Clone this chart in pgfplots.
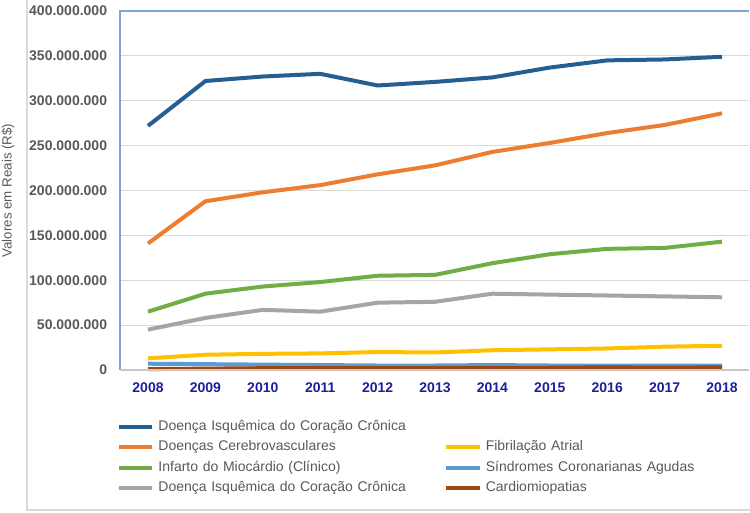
\documentclass[border=0pt]{standalone}
\usepackage{fontspec}
\setmainfont{Liberation Sans}
\usepackage{pgfplots}
\pgfplotsset{compat=1.18}

\definecolor{cBlue}{HTML}{255E91}
\definecolor{cOrange}{HTML}{ED7D31}
\definecolor{cGreen}{HTML}{70AD47}
\definecolor{cGray}{HTML}{A5A5A5}
\definecolor{cYellow}{HTML}{FFC000}
\definecolor{cLight}{HTML}{5B9BD5}
\definecolor{cBrown}{HTML}{9E480E}
\definecolor{frameBlue}{HTML}{7DA6D8}
\definecolor{gridGray}{HTML}{D9D9D9}
\definecolor{tickGray}{HTML}{595959}
\definecolor{tickNavy}{HTML}{1F1F9C}

\begin{document}
\begin{tikzpicture}
\begin{axis}[
  at={(0,0)}, anchor=south west,
  scale only axis,
  width=471.75pt, height=269.25pt,
  xmin=2007.512, xmax=2018.47,
  ymin=0, ymax=400,
  xtick={2008,2009,2010,2011,2012,2013,2014,2015,2016,2017,2018},
  xticklabels={2008,2009,2010,2011,2012,2013,2014,2015,2016,2017,2018},
  ytick={0,50,100,150,200,250,300,350,400},
  yticklabels={0,50.000.000,100.000.000,150.000.000,200.000.000,250.000.000,300.000.000,350.000.000,400.000.000},
  xticklabel style={font=\bfseries\fontsize{10.5}{12}\selectfont, text=tickNavy, anchor=north, inner sep=0pt, yshift=-9pt},
  yticklabel style={font=\bfseries\fontsize{10.5}{12}\selectfont, text=tickGray, anchor=east, inner sep=0pt, xshift=-9.5pt},
  major tick length=0pt,
  axis line style={draw=none},
  ymajorgrids, grid style={gridGray, line width=0.8pt},
  ylabel={Valores em Reais (R\$)},
  every axis y label/.style={at={(axis description cs:-0.178,0.5)}, rotate=90, anchor=center,
    font=\fontsize{10}{12}\selectfont, text=tickGray},
  clip=false,
  every axis plot/.append style={line width=3pt, line join=round},
  legend columns=2,
  legend cell align=left,
  legend image code/.code={\draw[#1] (0pt,0pt) -- (25pt,0pt);},
  legend style={at={(axis description cs:-0.005,-0.139)}, anchor=north west,
    draw=none, fill=none, inner sep=0pt, column sep=0pt, row sep=5.4pt,
    font=\fontsize{10.5}{12}\selectfont, text=tickGray,
    nodes={inner xsep=3pt, inner ysep=0pt, text height=7.5pt, text depth=2.5pt, text width=211.5pt, anchor=west}},
]
\addplot[cBlue] coordinates {(2008,272) (2009,322) (2010,327) (2011,330) (2012,317) (2013,321) (2014,326) (2015,337) (2016,345) (2017,346) (2018,349)};
\addlegendentry{Doença Isquêmica do Coração Crônica}
\addlegendimage{empty legend}
\addlegendentry{}
\addplot[cOrange] coordinates {(2008,141) (2009,188) (2010,198) (2011,206) (2012,218) (2013,228) (2014,243) (2015,253) (2016,264) (2017,273) (2018,286)};
\addlegendentry{Doenças Cerebrovasculares}
\addplot[cYellow] coordinates {(2008,13) (2009,17) (2010,18) (2011,18.5) (2012,20) (2013,19.5) (2014,22) (2015,23) (2016,24) (2017,26) (2018,27)};
\addlegendentry{Fibrilação Atrial}
\addplot[cGreen] coordinates {(2008,65) (2009,85) (2010,93) (2011,98) (2012,105) (2013,106) (2014,119) (2015,129) (2016,135) (2017,136) (2018,143)};
\addlegendentry{Infarto do Miocárdio (Clínico)}
\addplot[cLight] coordinates {(2008,7) (2009,6.5) (2010,6) (2011,5.5) (2012,5) (2013,5) (2014,5.5) (2015,5) (2016,5) (2017,5) (2018,5)};
\addlegendentry{Síndromes Coronarianas Agudas}
\addplot[cGray] coordinates {(2008,45) (2009,58) (2010,67) (2011,65) (2012,75) (2013,76) (2014,85) (2015,84) (2016,83) (2017,82) (2018,81)};
\addlegendentry{Doença Isquêmica do Coração Crônica}
\addplot[cBrown] coordinates {(2008,1) (2009,1.5) (2010,2) (2011,2) (2012,2) (2013,2) (2014,2.5) (2015,2.5) (2016,3) (2017,2.5) (2018,3)};
\addlegendentry{Cardiomiopatias}
\draw[frameBlue, line width=0.9pt] (rel axis cs:0,0) -- (rel axis cs:0,1) -- (rel axis cs:1,1);
\draw[gridGray!80!gray, line width=0.9pt] (rel axis cs:0,0) -- (rel axis cs:1,0);
\end{axis}
\draw[gridGray, line width=0.8pt] (-69.75pt,277.5pt) -- (-69.75pt,-105pt) -- (472.5pt,-105pt);
\pgfresetboundingbox
\path[use as bounding box] (-90pt,-107.25pt) rectangle (472.5pt,277.5pt);
\end{tikzpicture}
\end{document}
